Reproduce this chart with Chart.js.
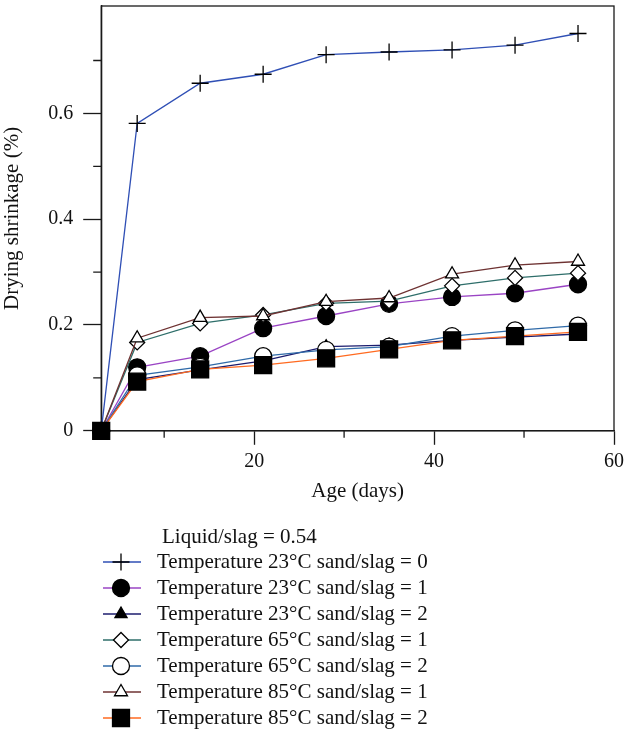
<!DOCTYPE html>
<html>
<head>
<meta charset="utf-8">
<script src="https://cdn.jsdelivr.net/npm/chart.js@4.4.0/dist/chart.umd.min.js"></script>
<style>
  html, body { margin: 0; padding: 0; background: #fff; }
  canvas { display: block; }
</style>
</head>
<body>
<canvas id="shrinkChart" width="624" height="735"></canvas>
<script>
// age of the specimens (days)
const ageDays = [3, 7, 14, 21, 28, 35, 42, 49, 56];

// drying shrinkage (%)
const t23s0 = [0, 0.581, 0.657, 0.674, 0.711, 0.716, 0.720, 0.729, 0.751];
const t23s1 = [0, 0.120, 0.141, 0.194, 0.217, 0.240, 0.253, 0.260, 0.277];
const t23s2 = [0, 0.097, 0.115, 0.132, 0.159, 0.162, 0.171, 0.177, 0.183];
const t65s1 = [0, 0.167, 0.203, 0.219, 0.241, 0.245, 0.274, 0.289, 0.298];
const t65s2 = [0, 0.105, 0.121, 0.141, 0.153, 0.159, 0.179, 0.190, 0.199];
const t85s1 = [0, 0.175, 0.214, 0.217, 0.244, 0.251, 0.296, 0.313, 0.320];
const t85s2 = [0, 0.093, 0.116, 0.124, 0.137, 0.154, 0.171, 0.179, 0.187];

const seriesLabels = [
  'Temperature 23\u00B0C sand/slag = 0',
  'Temperature 23\u00B0C sand/slag = 1',
  'Temperature 23\u00B0C sand/slag = 2',
  'Temperature 65\u00B0C sand/slag = 1',
  'Temperature 65\u00B0C sand/slag = 2',
  'Temperature 85\u00B0C sand/slag = 1',
  'Temperature 85\u00B0C sand/slag = 2'
];
const legendTitle = 'Liquid/slag = 0.54';

const xMajorTicks = [20, 40, 60];
const xMinorTicks = [10, 30, 50];
const yMajorTicks = [0, 0.2, 0.4, 0.6];
const yMinorTicks = [0.1, 0.3, 0.5, 0.7];

const serif = '"Liberation Serif", "DejaVu Serif", serif';
const axisColor = '#1a1a1a';

function series(label, values, color, style, radius, fill) {
  return {
    label: label,
    data: ageDays.map((d, i) => ({ x: d, y: values[i] })),
    borderColor: color,
    borderWidth: 1.3,
    pointStyle: style,
    pointRadius: radius,
    pointHoverRadius: radius,
    pointBackgroundColor: fill,
    pointBorderColor: '#000',
    pointBorderWidth: 1.3,
    tension: 0,
    fill: false,
    clip: false
  };
}

const datasets = [
  series(seriesLabels[0], t23s0, '#2f4fb5', 'cross', 8.5, '#000'),
  series(seriesLabels[1], t23s1, '#9a44c4', 'circle', 8.5, '#000'),
  series(seriesLabels[2], t23s2, '#1c1c6e', 'triangle', 7, '#000'),
  series(seriesLabels[3], t65s1, '#2e6e6a', 'rectRot', 7.5, '#fff'),
  series(seriesLabels[4], t65s2, '#2f6aa8', 'circle', 8.5, '#fff'),
  series(seriesLabels[5], t85s1, '#6e3232', 'triangle', 7.5, '#fff'),
  series(seriesLabels[6], t85s2, '#ff6a20', 'rect', 12, '#000')
];
// later series sit on top, like the original
datasets.forEach((ds, i) => { ds.order = datasets.length - 1 - i; });

// box round the plot + the short minor ticks
const frame = {
  id: 'frame',
  beforeDatasetsDraw(chart) {
    const { ctx, chartArea: a, scales: { x, y } } = chart;
    ctx.save();
    ctx.strokeStyle = axisColor;
    ctx.lineWidth = 1.3;
    ctx.strokeRect(a.left, a.top, a.right - a.left, a.bottom - a.top);
    ctx.beginPath();
    xMinorTicks.forEach(v => {
      const px = x.getPixelForValue(v);
      ctx.moveTo(px, a.bottom);
      ctx.lineTo(px, a.bottom + 7);
    });
    yMinorTicks.forEach(v => {
      const py = y.getPixelForValue(v);
      ctx.moveTo(a.left, py);
      ctx.lineTo(a.left - 8, py);
    });
    ctx.stroke();
    ctx.restore();
  }
};

// legend under the chart: line sample with marker, then the text
const sampleLegend = {
  id: 'sampleLegend',
  afterDraw(chart) {
    const { ctx } = chart;
    ctx.save();
    ctx.font = '21px ' + serif;
    ctx.textBaseline = 'middle';
    ctx.textAlign = 'left';
    ctx.fillStyle = '#111';
    ctx.fillText(legendTitle, 162, 537);
    chart.data.datasets.forEach((ds, i) => {
      const y = 562 + i * 26;
      ctx.strokeStyle = ds.borderColor;
      ctx.lineWidth = 1.3;
      ctx.beginPath();
      ctx.moveTo(103, y);
      ctx.lineTo(141, y);
      ctx.stroke();
      ctx.fillStyle = ds.pointBackgroundColor;
      ctx.strokeStyle = ds.pointBorderColor;
      Chart.helpers.drawPoint(ctx, {
        pointStyle: ds.pointStyle,
        radius: ds.pointRadius,
        rotation: 0,
        borderWidth: 1.3
      }, 121, y);
      ctx.fillStyle = '#111';
      ctx.fillText(ds.label, 157, y);
    });
    ctx.restore();
  }
};

// tick labels are not at the plot edges, so drop the edge padding
const noEdgePad = s => {
  s.paddingTop = 0;
  s.paddingBottom = 0;
  s.paddingLeft = 0;
  s.paddingRight = 0;
};

const ctx = document.getElementById('shrinkChart').getContext('2d');

new Chart(ctx, {
  type: 'line',
  data: { datasets: datasets },
  options: {
    responsive: false,
    animation: false,
    layout: { autoPadding: false, padding: { top: 6, right: 10, left: 0, bottom: 227 } },
    plugins: {
      legend: { display: false },
      tooltip: { enabled: false }
    },
    scales: {
      x: {
        type: 'linear',
        min: 3,
        max: 60,
        afterBuildTicks: s => { s.ticks = xMajorTicks.map(v => ({ value: v })); },
        afterFit: noEdgePad,
        grid: { drawOnChartArea: false, tickLength: 14, tickColor: axisColor, tickWidth: 1.3 },
        border: { color: axisColor, width: 1.3 },
        ticks: { color: '#111', padding: 5, maxRotation: 0, font: { family: serif, size: 20 }, callback: v => String(v) },
        title: { display: true, text: 'Age (days)', color: '#111', padding: { top: 0, bottom: 4 }, font: { family: serif, size: 21 } }
      },
      y: {
        min: 0,
        max: 0.803,
        afterBuildTicks: s => { s.ticks = yMajorTicks.map(v => ({ value: v })); },
        afterFit: noEdgePad,
        grid: { drawOnChartArea: false, tickLength: 18, tickColor: axisColor, tickWidth: 1.3 },
        border: { color: axisColor, width: 1.3 },
        ticks: { color: '#111', padding: 10, font: { family: serif, size: 20 }, callback: v => String(v) },
        title: { display: true, text: 'Drying shrinkage (%)', color: '#111', padding: { top: 0, bottom: 13 }, font: { family: serif, size: 21 } }
      }
    }
  },
  plugins: [frame, sampleLegend]
});
</script>
</body>
</html>
